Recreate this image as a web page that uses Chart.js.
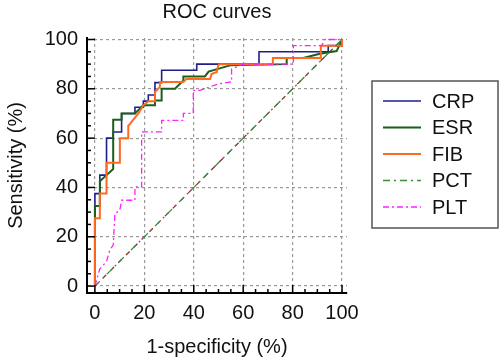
<!DOCTYPE html>
<html>
<head>
<meta charset="utf-8">
<script src="https://cdn.jsdelivr.net/npm/chart.js@4.4.0/dist/chart.umd.min.js"></script>
<style>
  body { margin: 0; background: #fff; }
  #wrap { width: 500px; height: 359px; position: relative; }
</style>
</head>
<body>
<div id="wrap"><canvas id="grafico"></canvas></div>
<script>
const seriesNames = ['CRP', 'ESR', 'FIB', 'PCT', 'PLT'];
const tickValues = [0, 20, 40, 60, 80, 100];

// vertices of each ROC curve (1-specificity, sensitivity), in %
const crpX = [0, 0, 2, 2, 4.7, 4.7, 7.4, 7.4, 10.8, 10.8, 16.2, 16.2, 19.6, 19.6, 21.6, 21.6, 24.3, 24.3, 27, 27, 41.2, 41.2, 66.4, 66.4, 94.4, 94.4, 100, 100];
const crpY = [0, 37.5, 37.5, 45, 45, 60, 60, 62.5, 62.5, 70, 70, 72.5, 72.5, 75, 75, 77.5, 77.5, 82.5, 82.5, 87.5, 87.5, 90, 90, 95, 95, 97.5, 97.5, 100];

const esrX = [0, 0, 2, 2, 4.7, 7.4, 7.4, 10.8, 10.8, 16.2, 19.6, 24.3, 24.3, 27, 27, 32.4, 35.8, 35.8, 44.5, 46, 54.7, 77.6, 77.6, 84.3, 91, 97.8, 100];
const esrY = [0, 32.5, 32.5, 42.5, 45, 47.5, 67.5, 67.5, 70, 70, 73.3, 73.3, 75.3, 75.3, 80, 80, 83.4, 85, 85, 87, 89.5, 90, 92.5, 92.5, 94.2, 95.3, 100];

const fibX = [0, 0, 2, 2, 4.7, 4.7, 10.1, 10.1, 13.5, 13.5, 17.6, 19.6, 21.6, 24.3, 24.3, 26.3, 26.3, 35.8, 37, 46.6, 47.2, 49.3, 49.9, 50.5, 72, 72, 91.4, 91.4, 100, 100];
const fibY = [0, 27.5, 27.5, 37.5, 37.5, 50, 50, 60, 60, 65, 70, 73.3, 75, 75, 78.7, 80.8, 82.8, 82.8, 84, 84, 86, 86.8, 89.5, 90, 90, 92.5, 92.5, 97.5, 97.5, 100];

const pctX = [0, 100];
const pctY = [0, 100];

const pltX = [0, 2, 4.7, 6, 7.4, 8.1, 10.1, 10.8, 16.2, 16.2, 18.9, 18.9, 27, 27, 35.8, 35.8, 39.8, 39.8, 42.5, 50, 55.3, 55.3, 60, 80.3, 80.3, 91.8, 93, 100];
const pltY = [0, 7, 10, 14.5, 16.6, 29.4, 30.8, 34.8, 34.8, 40.2, 40.2, 62.5, 62.5, 67.2, 67.2, 70, 70, 79.4, 79.4, 82, 82.8, 88, 90, 90, 97.5, 97.5, 100, 100];

const refX = [0, 100];
const refY = [0, 100];

function pts(xs, ys) {
  return xs.map((x, i) => ({ x: x, y: ys[i] }));
}

const FONT = "'Liberation Sans', Arial, sans-serif";

const styles = [
  { color: '#1f1f8c', width: 1.6, dash: [] },
  { color: '#1b5e1b', width: 2, dash: [] },
  { color: '#ff6a20', width: 2, dash: [] },
  { color: '#3c8c3c', width: 1.3, dash: [7, 4, 2, 4] },
  { color: '#ff20ff', width: 1.3, dash: [6, 3, 2, 3] }
];
const curves = [pts(crpX, crpY), pts(esrX, esrY), pts(fibX, fibY), pts(pctX, pctY), pts(pltX, pltY)];

const datasets = seriesNames.map((name, i) => ({
  label: name,
  data: curves[i],
  showLine: true,
  pointRadius: 0,
  borderColor: styles[i].color,
  backgroundColor: styles[i].color,
  borderWidth: styles[i].width,
  borderDash: styles[i].dash,
  order: 5 - i
}));
datasets.push({
  label: 'ref',
  data: pts(refX, refY),
  showLine: true,
  pointRadius: 0,
  borderColor: '#8a2a2a',
  borderWidth: 1.2,
  borderDash: [5, 6],
  order: 9
});

// inward ticks, title and framed legend
const extras = {
  id: 'extras',
  afterDraw(chart) {
    const c = chart.ctx;
    const xs = chart.scales.x, ys = chart.scales.y;
    const a = chart.chartArea;
    c.save();
    c.strokeStyle = '#000';
    c.lineWidth = 1.5;
    for (let v = 0; v <= 100; v += 5) {
      const len = v % 20 === 0 ? 8 : 4;
      const px = xs.getPixelForValue(v);
      c.beginPath(); c.moveTo(px, a.bottom); c.lineTo(px, a.bottom - len); c.stroke();
      const py = ys.getPixelForValue(v);
      c.beginPath(); c.moveTo(a.left, py); c.lineTo(a.left + len, py); c.stroke();
    }
    // title
    c.fillStyle = '#111';
    c.font = '20px ' + FONT;
    c.textAlign = 'center';
    c.textBaseline = 'middle';
    c.fillText('ROC curves', (a.left + a.right) / 2, 12);
    // legend
    const bx = 372, by = 81, bw = 126, bh = 147;
    c.lineWidth = 1.5;
    c.strokeStyle = '#555';
    c.strokeRect(bx, by, bw, bh);
    c.textAlign = 'left';
    seriesNames.forEach((name, i) => {
      const y = by + 20 + i * 26.5;
      c.strokeStyle = styles[i].color;
      c.lineWidth = styles[i].width;
      c.setLineDash(styles[i].dash);
      c.beginPath(); c.moveTo(383, y); c.lineTo(421, y); c.stroke();
      c.setLineDash([]);
      c.fillStyle = '#111';
      c.fillText(name, 432, y + 1);
    });
    c.restore();
  }
};

const ctx = document.getElementById('grafico').getContext('2d');

new Chart(ctx, {
  type: 'scatter',
  data: { datasets: datasets },
  options: {
    responsive: true,
    maintainAspectRatio: false,
    animation: false,
    layout: { padding: { top: 38, right: 153, left: 0, bottom: 0 } },
    plugins: {
      legend: { display: false },
      tooltip: { enabled: false },
      title: { display: false }
    },
    scales: {
      x: {
        type: 'linear',
        min: -3.2,
        max: 102,
        afterBuildTicks: s => { s.ticks = tickValues.map(v => ({ value: v })); },
        afterFit: s => { s.height = 66; },
        grid: { color: '#9a9a9a', lineWidth: 1.2, drawTicks: false },
        border: { display: true, color: '#000', width: 2, dash: [3, 3] },
        ticks: { padding: 8, color: '#111', font: { size: 20, family: FONT } },
        title: { display: true, text: '1-specificity (%)', color: '#111', padding: { top: 0, bottom: 0 }, font: { size: 20, family: FONT } }
      },
      y: {
        type: 'linear',
        min: -2.8,
        max: 100.6,
        afterBuildTicks: s => { s.ticks = tickValues.map(v => ({ value: v })); },
        afterFit: s => { s.width = 87; },
        grid: { color: '#9a9a9a', lineWidth: 1.2, drawTicks: false },
        border: { display: true, color: '#000', width: 2, dash: [3, 3] },
        ticks: { padding: 9, color: '#111', font: { size: 20, family: FONT } },
        title: { display: true, text: 'Sensitivity (%)', color: '#111', padding: { top: 4, bottom: 0 }, font: { size: 20, family: FONT } }
      }
    }
  },
  plugins: [extras]
});
</script>
</body>
</html>
